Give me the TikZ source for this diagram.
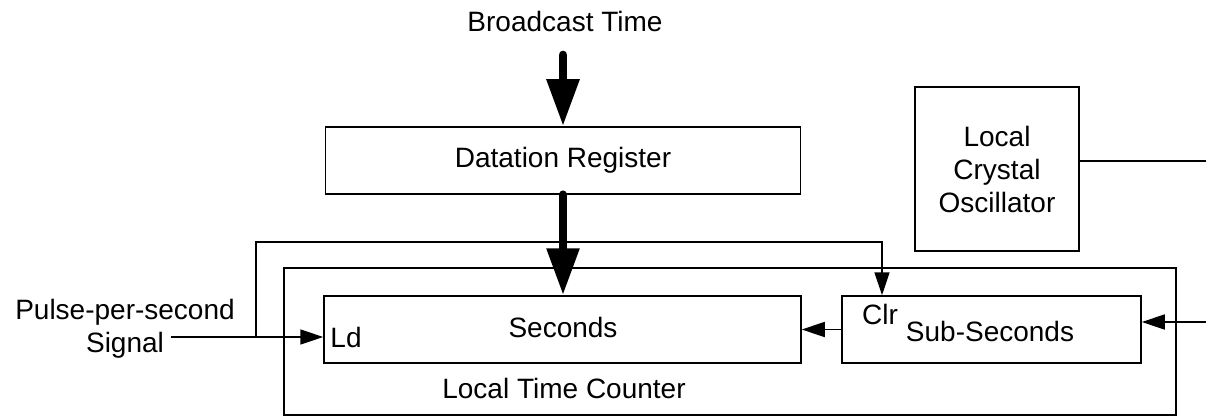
\documentclass[tikz,border=0pt]{standalone}
\usepackage{fontspec}
\setmainfont{Liberation Sans}
\usetikzlibrary{arrows.meta}
\begin{document}
\begin{tikzpicture}[x=1pt,y=-1pt,
  font=\fontsize{28}{33}\selectfont,
  box/.style={draw, line width=1.5pt, inner sep=0pt, anchor=center},
  lbl/.style={inner sep=0pt, anchor=center},
  wire/.style={line width=1.5pt},
  sarrow/.style={line width=1.5pt, -{Triangle[length=23pt,width=15pt]}},
  barrow/.style={line width=8.7pt, line cap=round, -{Triangle[length=47pt,width=31pt]}, shorten >=0pt}
]
\useasboundingbox (0,0) rectangle (1206,417);

% boxes
\node[box, minimum width=892pt, minimum height=147pt] (ltc) at (730,341.5) {};
\node[box, minimum width=475pt, minimum height=67pt] (dr) at (563,160.5) {Datation Register};
\node[box, minimum width=477pt, minimum height=67pt] (sec) at (562.5,329.5) {};
\node[box, minimum width=299pt, minimum height=67pt] (sub) at (991.5,329.5) {};
\node[box, minimum width=164pt, minimum height=164pt, align=center] (lco) at (997,169) {Local\\Crystal\\Oscillator};

% labels
\node[lbl] (bt) at (565,21) {Broadcast Time};
\node[lbl] (sectxt) at (563,327) {Seconds};
\node[lbl] (subtxt) at (990,331) {Sub-Seconds};
\node[lbl] (clr) at (880,314) {Clr};
\node[lbl] (ld) at (346,337) {Ld};
\node[lbl] (ltctxt) at (564,388) {Local Time Counter};
\node[lbl, align=center] (pps) at (125,328.5) {Pulse-per-second\\Signal};

% coordinates
\coordinate (ppsin) at (171,337);
\coordinate (branch) at (256,337);
\coordinate (clrtop) at (882,242);
\coordinate (rin) at (1206,322);
\coordinate (lcoout) at (1206,161);

% connectors
\draw[barrow] (dr.north |- 0,55) -- (dr.north);
\draw[barrow] (dr.south) -- (sec.north -| dr.south);
\draw[sarrow] (ppsin) -- (sec.west |- ppsin);
\draw[sarrow] (branch) |- (clrtop) -- (sub.north -| clrtop);
\draw[sarrow] (sub.west) -- (sec.east);
\draw[sarrow] (rin) -- (sub.east |- rin);
\draw[wire] (lco.east |- lcoout) -- (lcoout);
\end{tikzpicture}
\end{document}
